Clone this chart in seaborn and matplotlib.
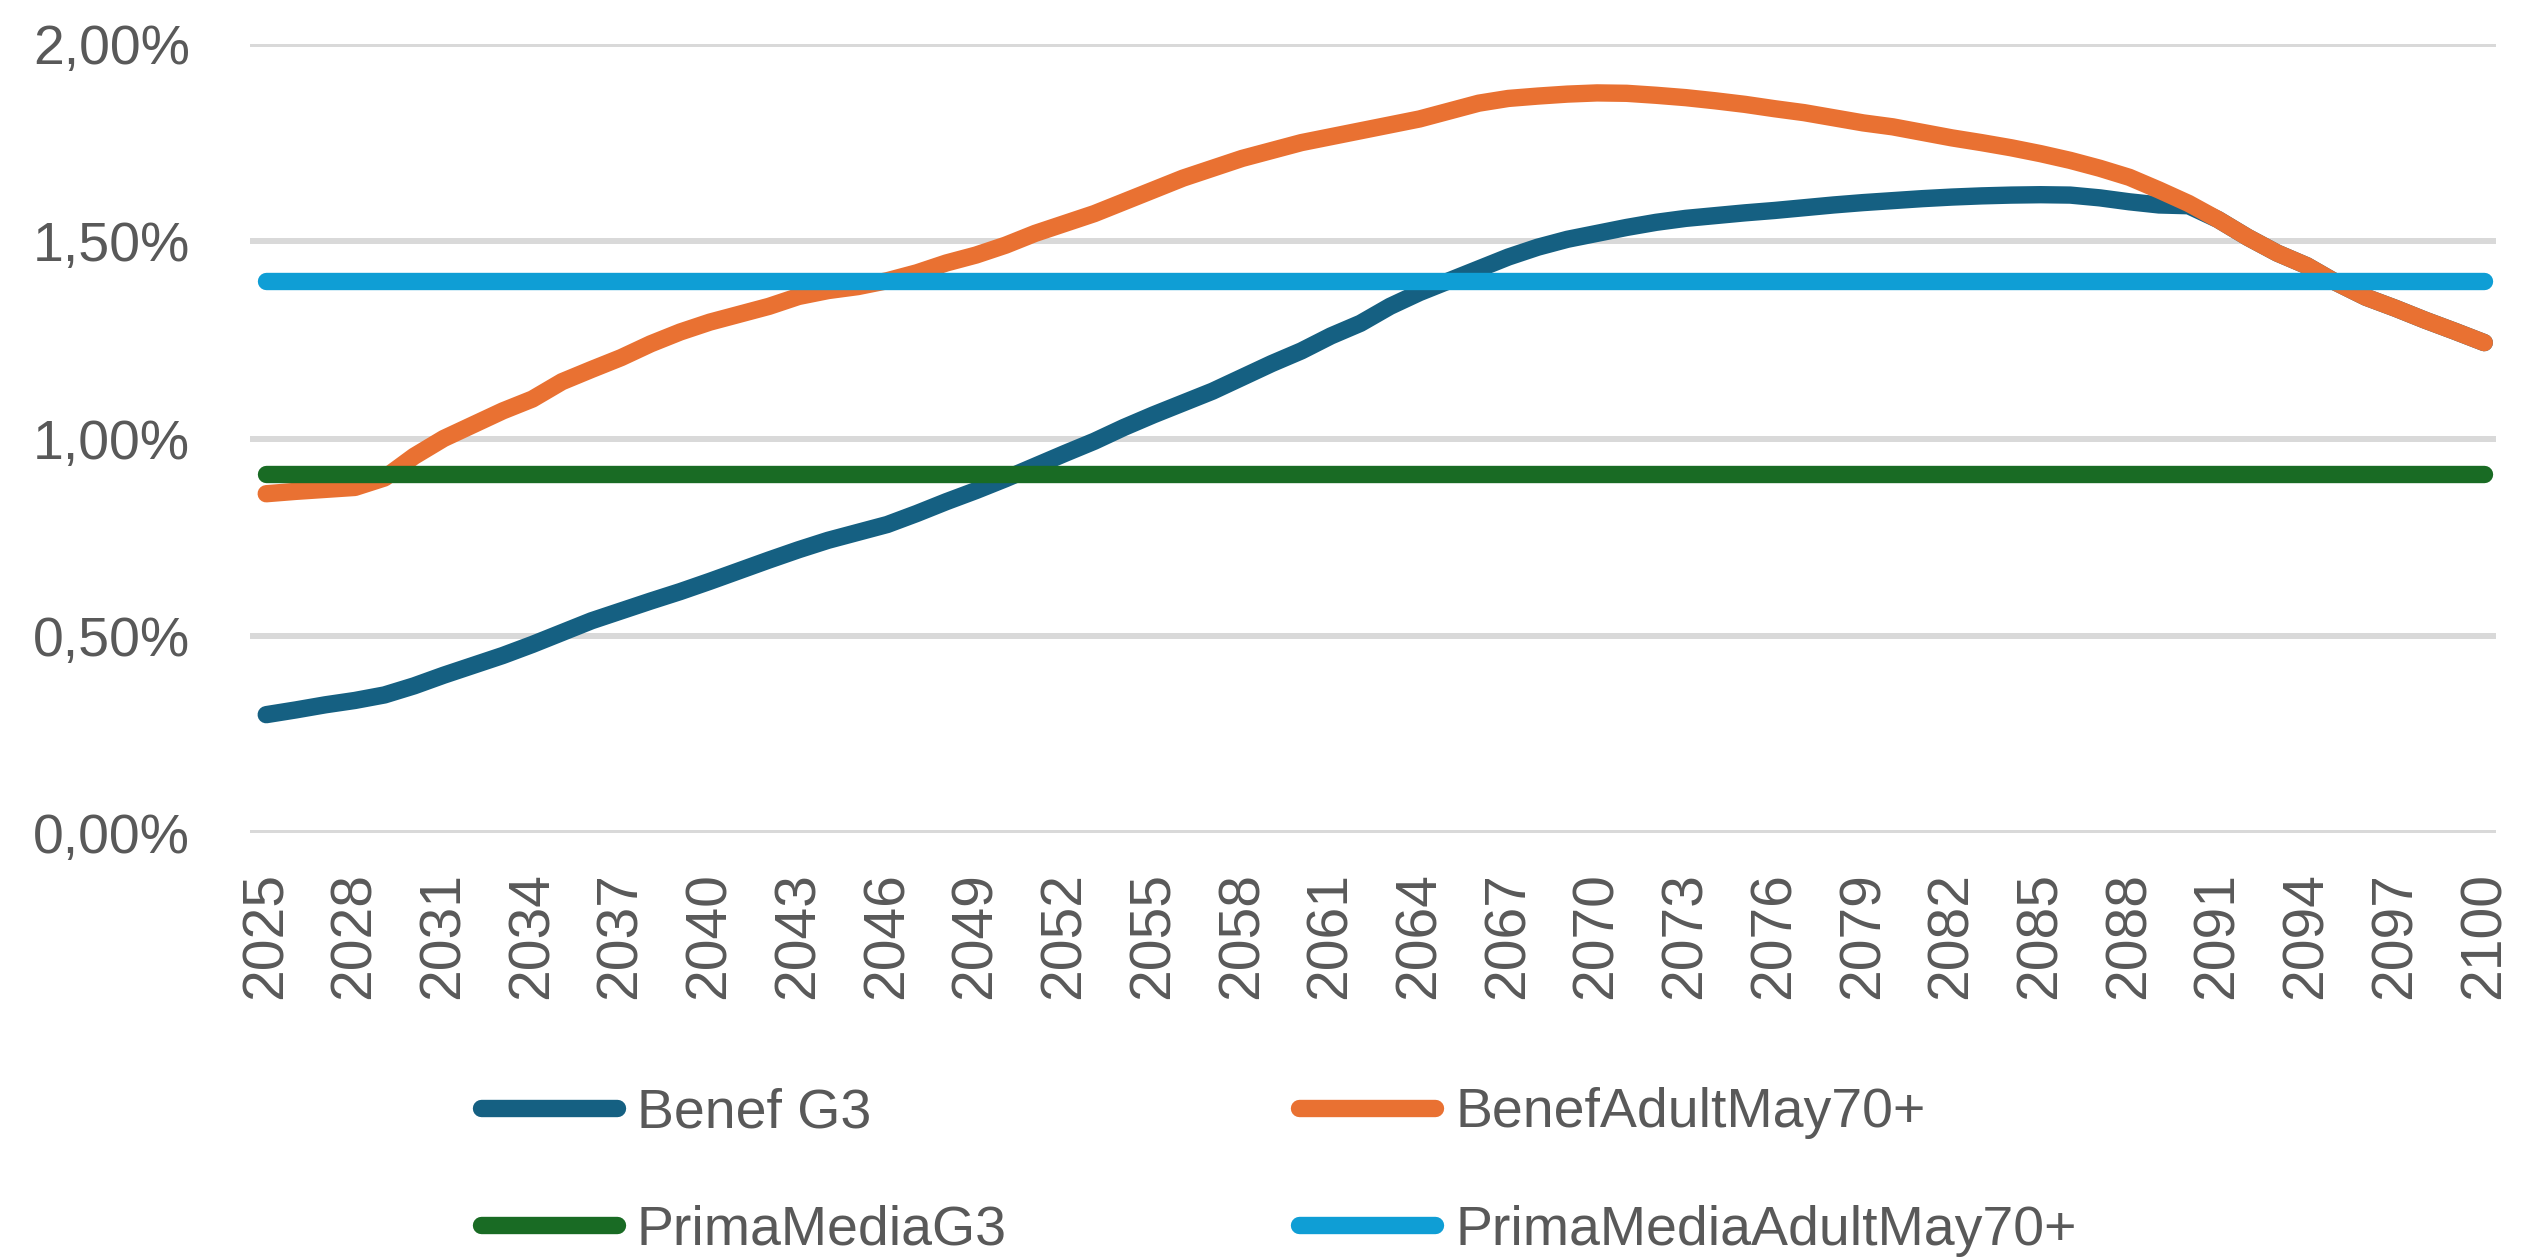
import pandas as pd
import matplotlib
matplotlib.use('Agg')
import matplotlib.pyplot as plt
import seaborn as sns

# Years on the category axis (one point per year)
years = list(range(2025, 2101))

# Benef G3 (%); from ~2090 it runs under the orange line
benef_g3 = [
    0.300, 0.312, 0.325, 0.336, 0.350, 0.373, 0.400, 0.425, 0.450, 0.478,
    0.508, 0.538, 0.563, 0.588, 0.612, 0.638, 0.665, 0.692, 0.718, 0.742,
    0.762, 0.782, 0.810, 0.840, 0.868, 0.898, 0.930, 0.962, 0.993, 1.028,
    1.060, 1.090, 1.120, 1.155, 1.190, 1.222, 1.260, 1.292, 1.335, 1.370,
    1.400, 1.430, 1.460, 1.485, 1.505, 1.520, 1.535, 1.548, 1.558, 1.565,
    1.572, 1.578, 1.585, 1.592, 1.598, 1.603, 1.608, 1.612, 1.615, 1.617,
    1.618, 1.617, 1.610, 1.600, 1.592, 1.590, 1.555, 1.510, 1.470, 1.438,
    1.395, 1.358, 1.330, 1.300, 1.272, 1.243,
]

# BenefAdultMay70+
benef_adult = [
    0.860, 0.866, 0.871, 0.876, 0.900, 0.955, 1.000, 1.035, 1.070, 1.100,
    1.144, 1.175, 1.205, 1.240, 1.270, 1.295, 1.315, 1.335, 1.360, 1.375,
    1.385, 1.400, 1.420, 1.445, 1.465, 1.490, 1.520, 1.545, 1.570, 1.600,
    1.630, 1.660, 1.685, 1.710, 1.730, 1.750, 1.765, 1.780, 1.795, 1.810,
    1.830, 1.850, 1.862, 1.868, 1.873, 1.876, 1.875, 1.870, 1.864, 1.856,
    1.847, 1.836, 1.826, 1.813, 1.800, 1.790, 1.776, 1.762, 1.750, 1.737,
    1.722, 1.705, 1.685, 1.662, 1.630, 1.596, 1.555, 1.510, 1.470, 1.438,
    1.395, 1.358, 1.330, 1.300, 1.272, 1.243,
]

# Flat reference levels
prima_g3 = [0.91] * len(years)
prima_adult = [1.40] * len(years)

series_names = ['Benef G3', 'BenefAdultMay70+', 'PrimaMediaG3', 'PrimaMediaAdultMay70+']
colors = ['#156082', '#E97132', '#196B24', '#0F9ED5']

df = pd.DataFrame({'year': years,
                   'Benef G3': benef_g3,
                   'BenefAdultMay70+': benef_adult,
                   'PrimaMediaG3': prima_g3,
                   'PrimaMediaAdultMay70+': prima_adult})

sns.set_style('white')
plt.rcParams['font.family'] = ['Liberation Sans', 'DejaVu Sans']
text_color = '#595959'

fig = plt.figure(figsize=(25.3, 12.57), dpi=100)
ax = fig.add_axes([0.0988, 0.3373, 0.8878, 0.6277])

# Draw in Excel series order so later series sit on top
for i, (name, col) in enumerate(zip(series_names, colors)):
    sns.lineplot(data=df, x='year', y=name, color=col, linewidth=12.5,
                 solid_capstyle='round', label=name, legend=False,
                 zorder=3 + i, ax=ax)

# Axes look (Excel style)
ax.set_xlim(2024.45, 2100.4)
ax.set_ylim(0, 2.0)
ax.set_yticks([0, 0.5, 1.0, 1.5, 2.0])
ax.set_yticklabels([f'{v:.2f}%'.replace('.', ',') for v in [0, 0.5, 1.0, 1.5, 2.0]])
ax.set_xticks(years[::3])
ax.set_xticklabels([str(y) for y in years[::3]], rotation=90)
ax.tick_params(axis='y', length=0, pad=43, labelsize=40, labelcolor=text_color)
ax.tick_params(axis='x', length=0, pad=28, labelsize=41, labelcolor=text_color)
ax.yaxis.grid(True, color='#d9d9d9', linewidth=4.3)
ax.xaxis.grid(False)
ax.set_axisbelow(True)
for s in ax.spines.values():
    s.set_visible(False)
ax.set_xlabel('')
ax.set_ylabel('')

# Legend below, two rows x two columns
lines = ax.get_lines()
order = [0, 2, 1, 3]
leg = fig.legend([lines[i] for i in order], [series_names[i] for i in order],
                 ncol=2, loc='center left', bbox_to_anchor=(0.19, 0.0675),
                 frameon=False, fontsize=40, handlelength=2.45, handletextpad=0.36,
                 columnspacing=5.26, labelspacing=1.18, borderpad=0, borderaxespad=0)
for t in leg.get_texts():
    t.set_color(text_color)

fig.savefig('out.png', dpi=100)
